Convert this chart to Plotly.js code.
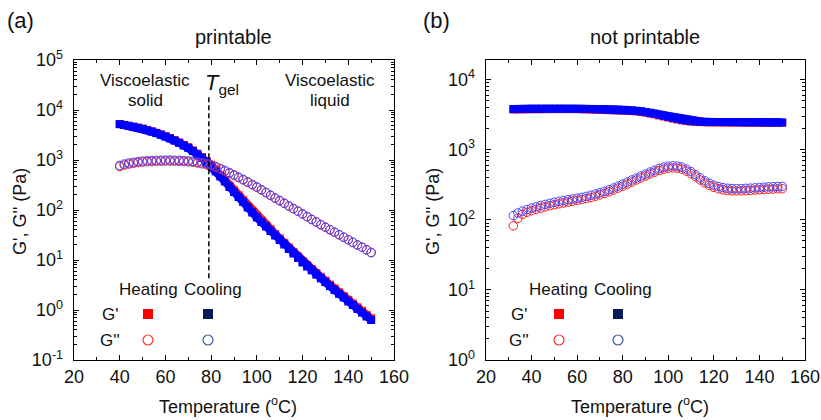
<!DOCTYPE html>
<html>
<head>
<meta charset="utf-8">
<script src="https://cdn.plot.ly/plotly-3.0.1.min.js"></script>
<style>html,body{margin:0;padding:0;background:#fff;}#chart{width:821px;height:420px;}</style>
</head>
<body>
<div id="chart"></div>
<script>
// ---------- Data: panel (a) printable ----------
const tempA = [40,42,44,46,48,50,52,54,56,58,60,62,64,66,68,70,72,74,76,78,80,82,84,86,88,90,92,94,96,98,100,102,104,106,108,110,112,114,116,118,120,122,124,126,128,130,132,134,136,138,140,142,144,146,148,150];
const gpHeatA = [5250,5050,4850,4650,4450,4250,4000,3750,3500,3250,3000,2750,2500,2250,2000,1800,1560,1340,1150,960,800,630,500,400,310,248,196,156,120,96,76,62,50,41,33,27,22,17.8,14.5,11.8,9.5,7.9,6.6,5.5,4.6,3.85,3.2,2.7,2.25,1.9,1.6,1.35,1.13,0.96,0.8,0.68];
const gpCoolA = [5200,5000,4800,4600,4400,4200,3950,3700,3450,3200,2950,2700,2450,2200,1950,1750,1510,1290,1100,910,760,590,468,372,288,229,182,145,112,89,71,57.5,46.8,38,30.9,25.1,20.4,16.6,13.5,11,8.9,7.4,6.2,5.1,4.3,3.6,3,2.5,2.1,1.78,1.48,1.26,1.05,0.89,0.74,0.63];
const gppHeatA = [740,790,830,860,890,910,925,935,945,950,955,955,950,945,935,920,900,870,840,805,770,715,660,600,545,492,444,400,357,318,284,250,221,195,172,152,135,119,106,94,83,73.5,64.5,57.5,50.5,45,40,36,32,28.5,25.5,22.5,20,18,16,14.2];
const gppCoolA = [780,830,870,900,930,950,965,975,985,990,995,995,990,985,975,960,940,910,880,845,800,740,680,620,560,505,455,410,365,325,290,255,225,198,175,155,137,121,107,95,84,74,65,58,51,45.5,40.5,36,32,28.5,25.5,22.5,20,18,16,14];

// ---------- Data: panel (b) not printable ----------
const tempB = [32,34,36,38,40,42,44,46,48,50,52,54,56,58,60,62,64,66,68,70,72,74,76,78,80,82,84,86,88,90,92,94,96,98,100,102,104,106,108,110,112,114,116,118,120,122,124,126,128,130,132,134,136,138,140,142,144,146,148,150];
const gpHeatB = [3760,3780,3790,3800,3810,3810,3810,3810,3810,3810,3810,3805,3800,3800,3795,3790,3785,3780,3770,3760,3750,3735,3720,3700,3670,3635,3595,3540,3475,3390,3295,3195,3085,2980,2880,2785,2700,2625,2565,2520,2495,2480,2472,2468,2465,2462,2460,2458,2456,2454,2452,2450,2448,2446,2444,2442,2440,2438,2436,2432];
const gpCoolB = [3800,3820,3830,3840,3850,3850,3850,3850,3850,3850,3850,3845,3840,3840,3835,3830,3825,3820,3810,3800,3790,3775,3760,3740,3715,3685,3650,3600,3540,3460,3370,3270,3160,3050,2950,2850,2760,2680,2610,2560,2530,2510,2500,2495,2490,2488,2485,2482,2480,2478,2475,2472,2470,2468,2465,2462,2460,2458,2455,2450];
const gppHeatB = [82,105,120,128,135,141,147,153,159,164,169,174,179,184,189,195,201,208,217,227,238,251,266,283,302,323,346,370,396,422,450,478,505,528,545,552,547,528,495,455,411,370,336,310,291,277,268,262,259,258,259,261,263,266,268,271,273,275,277,278];
const gppCoolB = [115,125,133,140,147,153,160,166,172,178,183,188,193,198,203,209,216,224,233,243,255,269,285,303,323,345,370,395,422,450,480,510,540,565,582,590,585,565,530,487,440,397,360,332,312,298,288,282,279,278,279,281,283,286,289,292,295,297,299,300];

// ---------- Tick labels ----------
const yTickValsA = [0.1,1,10,100,1000,10000,100000];
const yTickTextA = ['10<sup>-1</sup>','10<sup>0</sup>','10<sup>1</sup>','10<sup>2</sup>','10<sup>3</sup>','10<sup>4</sup>','10<sup>5</sup>'];
const yTickValsB = [1,10,100,1000,10000];
const yTickTextB = ['10<sup>0</sup>','10<sup>1</sup>','10<sup>2</sup>','10<sup>3</sup>','10<sup>4</sup>'];
const xTickVals = [20,40,60,80,100,120,140,160];

// ---------- Styling ----------
const RED = '#ff1a1a';
const BLUE = '#0000ff';
const CBLUE = '#4545ff';
const FONT = 'Liberation Sans, Arial, sans-serif';

function minorLog(lo, hi){
  const out=[];
  for(let e=lo;e<hi;e++){for(let m=2;m<=9;m++){out.push(m*Math.pow(10,e));}}
  return out;
}

function gpTrace(x,y,color,xa,ya){
  return {x:x,y:y,xaxis:xa,yaxis:ya,type:'scatter',mode:'lines+markers',
    line:{color:color,width:8},marker:{symbol:'square',size:8,color:color},hoverinfo:'skip',showlegend:false};
}
function gppTrace(x,y,color,xa,ya){
  return {x:x,y:y,xaxis:xa,yaxis:ya,type:'scatter',mode:'markers',
    marker:{symbol:'circle-open',size:8.5,color:color,line:{width:1,color:color}},hoverinfo:'skip',showlegend:false};
}

const data = [
  gpTrace(tempA,gpHeatA,RED,'x','y'),
  gpTrace(tempA,gpCoolA,BLUE,'x','y'),
  gppTrace(tempA,gppHeatA,RED,'x','y'),
  gppTrace(tempA,gppCoolA,CBLUE,'x','y'),
  gpTrace(tempB,gpHeatB,RED,'x2','y2'),
  gpTrace(tempB,gpCoolB,BLUE,'x2','y2'),
  gppTrace(tempB,gppHeatB,RED,'x2','y2'),
  gppTrace(tempB,gppCoolB,CBLUE,'x2','y2')
];

const W=821,H=420;
const px = v=>v/W, py = v=>1-v/H;

function xAxis(dom, anchor){
  return {domain:dom,anchor:anchor,range:[20,160],tickmode:'array',tickvals:xTickVals,
    ticks:'inside',ticklen:5,tickwidth:1,tickcolor:'#000',
    minor:{ticks:'inside',ticklen:3,tickwidth:1,tickcolor:'#000',tickmode:'linear',tick0:10,dtick:10},
    showline:true,linecolor:'#000',linewidth:1.3,mirror:'allticks',showgrid:false,zeroline:false,
    tickfont:{family:FONT,size:18,color:'#111'},ticklabelstandoff:0,automargin:false,fixedrange:true};
}
function yAxis(dom, anchor, range, tv, tt, lo, hi){
  return {domain:dom,anchor:anchor,type:'log',range:range,tickmode:'array',tickvals:tv,ticktext:tt,
    ticks:'inside',ticklen:5,tickwidth:1,tickcolor:'#000',
    minor:{ticks:'inside',ticklen:3,tickwidth:1,tickcolor:'#000',tickmode:'array',tickvals:minorLog(lo,hi)},
    showline:true,linecolor:'#000',linewidth:1.3,mirror:'allticks',showgrid:false,zeroline:false,
    tickfont:{family:FONT,size:18,color:'#111'},ticklabelstandoff:6,automargin:false,fixedrange:true};
}

const yDom=[py(360),py(60)];
const layout = {
  width:W,height:H,margin:{l:0,r:0,t:0,b:0},paper_bgcolor:'#fff',plot_bgcolor:'#fff',
  showlegend:false,font:{family:FONT,color:'#111'},
  xaxis:xAxis([px(74),px(394)],'y'),
  yaxis:yAxis(yDom,'x',[-1,5],yTickValsA,yTickTextA,-1,5),
  xaxis2:xAxis([px(486),px(805)],'y2'),
  yaxis2:yAxis(yDom,'x2',[0,4.28],yTickValsB,yTickTextB,0,5),
  shapes:[
    {type:'line',xref:'x',yref:'y',x0:79,x1:79,y0:4.3,y1:18000,line:{color:'#000',width:1.5,dash:'5px,3px'}}
  ],
  annotations:[]
};

function ann(x,y,text,size,opts){
  return Object.assign({xref:'paper',yref:'paper',x:px(x),y:py(y),text:text,showarrow:false,
    xanchor:'center',yanchor:'middle',font:{family:FONT,size:size,color:'#111'}},opts||{});
}
layout.annotations.push(
  ann(20,20,'(a)',22), ann(436,20,'(b)',22),
  ann(233,37,'printable',20), ann(645,37,'not printable',20),
  ann(20,212,"G', G'' (Pa)",18,{textangle:-90}),
  ann(433,212,"G', G'' (Pa)",18,{textangle:-90}),
  ann(228,405,'Temperature (<sup>o</sup>C)',18),
  ann(640,405,'Temperature (<sup>o</sup>C)',18),
  ann(145,81,'Viscoelastic',17), ann(145,100,'solid',17),
  ann(330,81,'Viscoelastic',17), ann(330,100,'liquid',17),
  ann(222,84,'<i>T</i><sub>gel</sub>',22)
);

// manual legends
const legends=[{hx:148,cx:213,lx:110,sx1:148,sx2:208},{hx:558,cx:623,lx:519,sx1:559,sx2:618}];
legends.forEach(L=>{
  layout.annotations.push(
    ann(L.hx,289,'Heating',17), ann(L.cx,289,'Cooling',17),
    ann(L.lx,314,"G'",17), ann(L.lx,340,"G''",17)
  );
  const sq=(x,col)=>({type:'rect',xref:'paper',yref:'paper',xsizemode:'pixel',ysizemode:'pixel',
    xanchor:px(x),yanchor:py(314),x0:-5,x1:5,y0:-5,y1:5,fillcolor:col,line:{width:0}});
  const ci=(x,col)=>({type:'circle',xref:'paper',yref:'paper',xsizemode:'pixel',ysizemode:'pixel',
    xanchor:px(x),yanchor:py(340),x0:-5,x1:5,y0:-5,y1:5,fillcolor:'rgba(0,0,0,0)',line:{width:1.2,color:col}});
  layout.shapes.push(sq(L.sx1,'#ff0000'),sq(L.sx2,'#0b1b5a'),ci(L.sx1,'#ff3333'),ci(L.sx2,'#3a5a9c'));
});

Plotly.newPlot('chart',data,layout,{displayModeBar:false,staticPlot:true});
</script>
</body>
</html>
